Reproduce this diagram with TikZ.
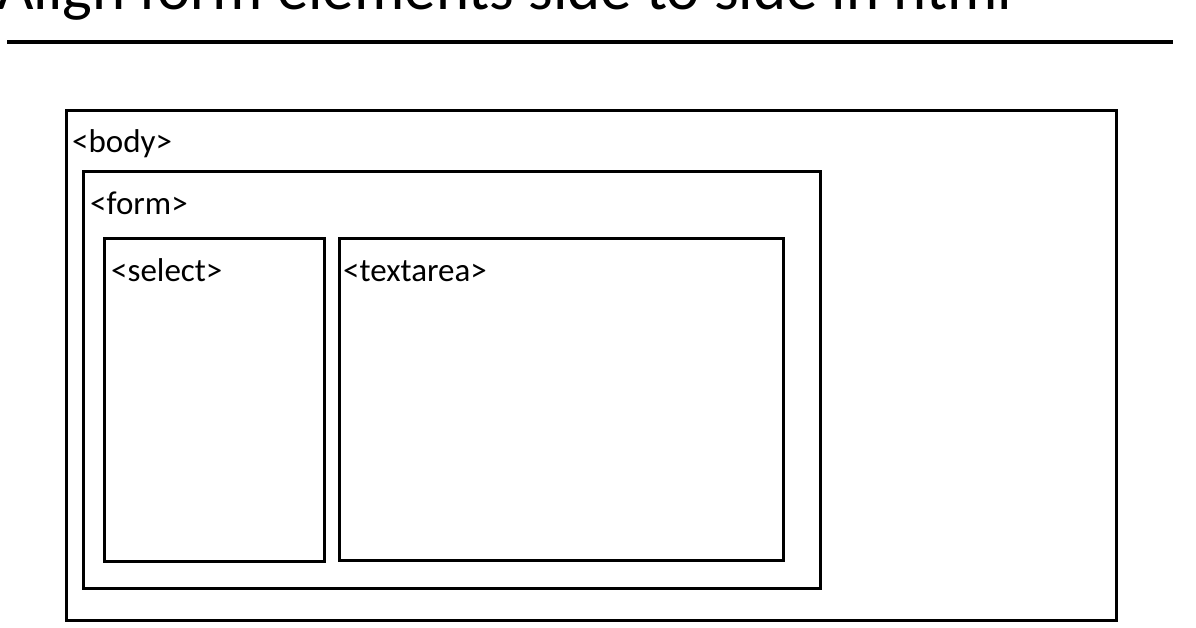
\documentclass[tikz,border=0pt]{standalone}
\usepackage{fontspec}
\setmainfont{Carlito}

\tikzset{
  box/.style={line width=3pt},
  tag/.style={anchor=base west,inner sep=0pt,font=\fontsize{33}{40}\selectfont}
}

\begin{document}
\begin{tikzpicture}[x=1pt,y=-1pt]
    \useasboundingbox (0,0) rectangle (1196,628);

    \node[anchor=base west,inner sep=0pt,font=\fontsize{63}{72}\selectfont] (title) at (-3,10) {Align form elements side to side in html};
    \draw[line width=4pt] (7,42.5) -- (1173,42.5);

    \draw[box] (66,111) rectangle (1116,620);
    \node[tag] (body) at (72,153) {<body>};

    \draw[box] (83,172) rectangle (820,588);
    \node[tag] (form) at (90,215) {<form>};

    \draw[box] (104,239) rectangle (324,561);
    \node[tag] (select) at (111,281) {<select>};

    \draw[box] (339,239) rectangle (783,560);
    \node[tag] (textarea) at (343,282) {<textarea>};
  \end{tikzpicture}
\end{document}
